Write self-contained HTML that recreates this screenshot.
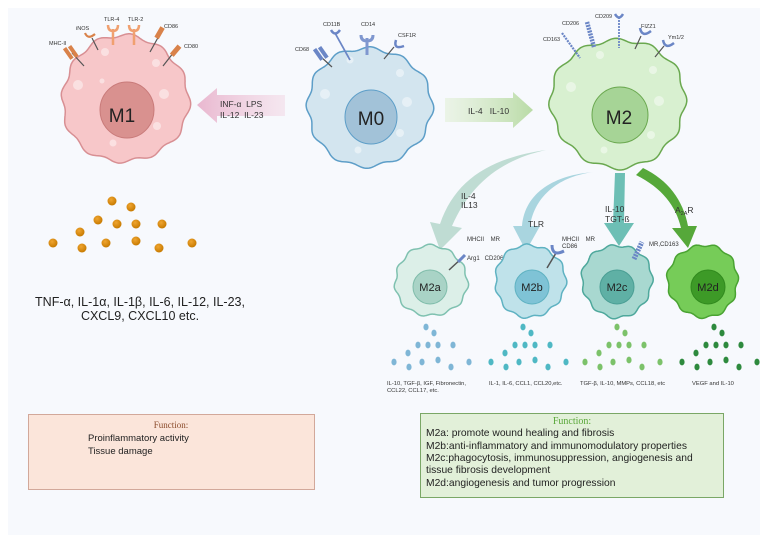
<!DOCTYPE html>
<html><head><meta charset="utf-8">
<style>
html,body{margin:0;padding:0;background:#fff;}
svg{display:block;font-family:"Liberation Sans",sans-serif;}
</style></head>
<body>
<svg id="s" width="768" height="543" viewBox="0 0 768 543" xmlns="http://www.w3.org/2000/svg">
<defs>
<radialGradient id="og" cx="40%" cy="35%" r="65%"><stop offset="0" stop-color="#f0a530"/><stop offset="1" stop-color="#c77a00"/></radialGradient>
<linearGradient id="pg" x1="0" x2="1"><stop offset="0" stop-color="#e9b7cf"/><stop offset="1" stop-color="#f3dbe7" stop-opacity="0.6"/></linearGradient>
<linearGradient id="gg" x1="0" x2="1"><stop offset="0" stop-color="#e3f0d9" stop-opacity="0.6"/><stop offset="1" stop-color="#b9dba6"/></linearGradient>
</defs>
<rect x="8" y="8" width="752" height="527" fill="#f7f9fd"/>
<g id="cells">
<ellipse cx="125" cy="99" rx="63" ry="63" fill="#f7c7c9" stroke="#d88f93"/>
<ellipse cx="369" cy="107" rx="62" ry="59" fill="#d3e5ef" stroke="#5d9ec8"/>
<ellipse cx="618" cy="103" rx="67" ry="64" fill="#d8f0d0" stroke="#6aa84f"/>
</g>
<g fill="#fff" opacity="0.45">
<circle cx="78" cy="85" r="5"/><circle cx="164" cy="94" r="5"/><circle cx="156" cy="63" r="4"/><circle cx="105" cy="52" r="4"/><circle cx="157" cy="126" r="4"/><circle cx="113" cy="143" r="3.5"/><circle cx="102" cy="81" r="2.5"/>
<circle cx="325" cy="94" r="5"/><circle cx="407" cy="102" r="5"/><circle cx="400" cy="73" r="4"/><circle cx="350" cy="60" r="3.5"/><circle cx="400" cy="133" r="4"/><circle cx="358" cy="150" r="3.5"/>
<circle cx="571" cy="87" r="5"/><circle cx="659" cy="101" r="5"/><circle cx="653" cy="70" r="4"/><circle cx="600" cy="55" r="4"/><circle cx="651" cy="135" r="4"/><circle cx="604" cy="150" r="3.5"/>
</g>
<ellipse cx="127" cy="110" rx="27" ry="28" fill="#d9918f" stroke="#c97b7a"/>
<ellipse cx="371" cy="117" rx="26" ry="27" fill="#a2c2d8" stroke="#5d9ec8"/>
<ellipse cx="620" cy="115" rx="28" ry="28" fill="#a6d496" stroke="#6aa84f"/>
<text x="122" y="122" font-size="19" text-anchor="middle" fill="#222">M1</text>
<text x="371" y="125" font-size="19" text-anchor="middle" fill="#222">M0</text>
<text x="619" y="124" font-size="19" text-anchor="middle" fill="#222">M2</text>
<polygon points="197,105 217,88 217,95 285,95 285,116 217,116 217,123" fill="url(#pg)"/>
<polygon points="445,98 513,98 513,92 533,110 513,128 513,122 445,122" fill="url(#gg)"/>
<text x="220" y="107" font-size="8.5" fill="#333">INF-α&#160;&#160;LPS</text>
<text x="220" y="118" font-size="8.5" fill="#333">IL-12&#160;&#160;IL-23</text>
<text x="468" y="114" font-size="8.5" fill="#333">IL-4&#160;&#160;&#160;IL-10</text>
<g stroke-width="1.2" fill="none">
<line x1="72" y1="53" x2="84" y2="66" stroke="#555"/><rect x="66" y="47" width="4" height="13" fill="#d9824a" stroke="none" transform="rotate(-35 68 53)"/><rect x="71" y="45" width="4" height="13" fill="#d9824a" stroke="none" transform="rotate(-35 73 51)"/>
<line x1="92" y1="38" x2="98" y2="50" stroke="#555"/><path d="M85 33 q3 7 10 1" stroke="#d9824a" stroke-width="2.2"/>
<path d="M113 29 v16 M113 31 q-5 0 -5 -6 M113 31 q5 0 5 -6" stroke="#f0a070" stroke-width="2.5"/>
<path d="M134 29 v16 M134 31 q-5 0 -5 -6 M134 31 q5 0 5 -6" stroke="#f0a070" stroke-width="2.5"/>
<line x1="150" y1="52" x2="160" y2="34" stroke="#555"/><rect x="157" y="27" width="5" height="12" fill="#d9824a" stroke="none" transform="rotate(30 160 33)"/>
<line x1="163" y1="66" x2="174" y2="52" stroke="#555"/><rect x="173" y="45" width="5" height="12" fill="#d9824a" stroke="none" transform="rotate(40 176 51)"/>
<line x1="320" y1="56" x2="332" y2="67" stroke="#555"/><rect x="316" y="48" width="4" height="13" fill="#6b86c6" stroke="none" transform="rotate(-35 318 54)"/><rect x="321" y="46" width="4" height="13" fill="#6b86c6" stroke="none" transform="rotate(-35 323 52)"/>
<line x1="335" y1="33" x2="350" y2="60" stroke="#6b86c6" stroke-width="1.8"/><path d="M331 30 q4 7 9 0" stroke="#6b86c6" stroke-width="2.5"/>
<path d="M367 38 v17 M367 41 q-6 0 -6 -6 M367 41 q6 0 6 -6" stroke="#7f97cf" stroke-width="3"/>
<line x1="384" y1="59" x2="394" y2="47" stroke="#555"/><path d="M396 40 q-3 10 8 6" stroke="#6b86c6" stroke-width="2.5"/>
<line x1="562" y1="33" x2="580" y2="58" stroke="#6b86c6" stroke-width="2.2" stroke-dasharray="2 1"/>
<line x1="587" y1="22" x2="594" y2="47" stroke="#6b86c6" stroke-width="4.5" stroke-dasharray="2 1"/>
<line x1="619" y1="17" x2="619" y2="48" stroke="#6b86c6" stroke-width="1.8" stroke-dasharray="2 1"/><path d="M615 14 q4 7 8 0" stroke="#6b86c6" stroke-width="2.5"/>
<line x1="635" y1="49" x2="641" y2="36" stroke="#555"/><path d="M640 28 q2 10 11 3" stroke="#6b86c6" stroke-width="2.5"/>
<line x1="655" y1="57" x2="664" y2="46" stroke="#555"/><path d="M663 40 q2 10 11 3" stroke="#6b86c6" stroke-width="2.5"/>
</g>
<g font-size="5.5" fill="#333">
<text x="49" y="45">MHC-II</text><text x="76" y="30">iNOS</text><text x="104" y="21">TLR-4</text><text x="128" y="21">TLR-2</text><text x="164" y="28">CD86</text><text x="184" y="48">CD80</text>
<text x="295" y="51">CD68</text><text x="323" y="26">CD11B</text><text x="361" y="26">CD14</text><text x="398" y="37">CSF1R</text>
<text x="543" y="41">CD163</text><text x="562" y="25">CD206</text><text x="595" y="18">CD209</text><text x="641" y="28">FIZZ1</text><text x="668" y="39">Ym1/2</text>
</g>
<path d="M546 150 C500 160 470 185 452 226 L462 228 L440 250 L430 222 L440 224 C455 180 490 158 546 150 Z" fill="#bfdcd3"/>
<path d="M594 172 C560 176 535 195 530 226 L540 226 L526 251 L513 226 L522 226 C525 192 555 175 594 172 Z" fill="#a9d5df"/>
<path d="M615 173 L625 173 L624 223 L634 223 L619 246 L604 223 L613 223 Z" fill="#6dbfb5"/>
<path d="M643 168 C668 180 683 200 688 226 L697 226 L688 248 L672 228 L681 228 C676 206 662 188 636 175 Z" fill="#56a83a"/>
<g font-size="8.5" fill="#333">
<text x="461" y="199">IL-4</text><text x="461" y="208">IL13</text>
<text x="528" y="227">TLR</text>
<text x="605" y="212">IL-10</text><text x="605" y="222">TGT-ß</text>
<text x="675" y="213">A<tspan font-size="5.5" dy="2">2A</tspan><tspan dy="-2">R</tspan></text>
</g>
<g font-size="6" fill="#333">
<text x="467" y="241">MHCII&#160;&#160;&#160;&#160;MR</text><text x="467" y="260">Arg1&#160;&#160;&#160;CD206</text>
<text x="562" y="241">MHCII&#160;&#160;&#160;&#160;MR</text><text x="562" y="248">CD86</text>
<text x="649" y="246">MR,CD163</text>
</g>
<g id="small">
<ellipse cx="431" cy="281" rx="36" ry="35" fill="#dcefe8" stroke="#7fc1b0"/>
<ellipse cx="530" cy="281" rx="35" ry="36" fill="#bfe2ea" stroke="#5fb2c2"/>
<ellipse cx="617" cy="281" rx="35" ry="36" fill="#a8d8d0" stroke="#4ea89c"/>
<ellipse cx="703" cy="281" rx="35" ry="36" fill="#76cc58" stroke="#4aa332"/>
</g>
<circle cx="430" cy="287" r="17" fill="#a9d3c6" stroke="#7fbcaa"/>
<circle cx="532" cy="287" r="17" fill="#7fc3d6" stroke="#5fb2c2"/>
<circle cx="617" cy="287" r="17" fill="#5fb0a5" stroke="#4a9e94"/>
<circle cx="708" cy="287" r="17" fill="#3d9a27" stroke="#318a1e"/>
<g font-size="11" fill="#222" text-anchor="middle">
<text x="430" y="291">M2a</text><text x="532" y="291">M2b</text><text x="617" y="291">M2c</text><text x="708" y="291">M2d</text>
</g>
<g stroke-width="1.5" fill="none">
<line x1="449" y1="270" x2="462" y2="258" stroke="#555"/><path d="M458 262 l7 -7" stroke="#6b86c6" stroke-width="3"/>
<line x1="547" y1="268" x2="556" y2="253" stroke="#555"/><path d="M552 245 q0 12 12 6" stroke="#6b86c6" stroke-width="3"/>
<line x1="634" y1="259" x2="642" y2="242" stroke="#6b86c6" stroke-width="5" stroke-dasharray="2 1"/>
</g>
<g id="dots"></g>
<g fill="url(#og)">
<circle cx="112" cy="201" r="4.5"/><circle cx="131" cy="207" r="4.5"/><circle cx="98" cy="220" r="4.5"/><circle cx="117" cy="224" r="4.5"/><circle cx="136" cy="224" r="4.5"/><circle cx="162" cy="224" r="4.5"/><circle cx="80" cy="232" r="4.5"/><circle cx="53" cy="243" r="4.5"/><circle cx="82" cy="248" r="4.5"/><circle cx="106" cy="243" r="4.5"/><circle cx="136" cy="241" r="4.5"/><circle cx="159" cy="248" r="4.5"/><circle cx="192" cy="243" r="4.5"/>
</g>
<text x="140" y="306" font-size="12.5" text-anchor="middle" fill="#222">TNF-α, IL-1α, IL-1β, IL-6, IL-12, IL-23,</text>
<text x="140" y="320" font-size="12.5" text-anchor="middle" fill="#222">CXCL9, CXCL10 etc.</text>
<g font-size="5.8" fill="#333">
<text x="387" y="385">IL-10, TGF-β, IGF, Fibronectin,</text><text x="387" y="392">CCL22, CCL17, etc.</text>
<text x="489" y="385">IL-1, IL-6, CCL1, CCL20,etc.</text>
<text x="580" y="385">TGF-β, IL-10, MMPs, CCL18, etc</text>
<text x="692" y="385">VEGF and IL-10</text>
</g>
<rect x="28.5" y="414.5" width="286" height="75" fill="#fbe5da" stroke="#d2a89a"/>
<text x="171" y="428" font-size="9" font-family="Liberation Serif,serif" text-anchor="middle" fill="#8a4a2a">Function:</text>
<text x="88" y="441" font-size="9.5" fill="#222">Proinflammatory activity</text>
<text x="88" y="454" font-size="9.5" fill="#222">Tissue damage</text>
<rect x="420.5" y="413.5" width="303" height="84" fill="#e2f0d9" stroke="#7aa766"/>
<text x="572" y="424" font-size="10" font-family="Liberation Serif,serif" text-anchor="middle" fill="#5aa83a">Function:</text>
<g font-size="10.3" fill="#222">
<text x="426" y="436">M2a: promote wound healing and fibrosis</text>
<text x="426" y="449">M2b:anti-inflammatory and immunomodulatory properties</text>
<text x="426" y="461">M2c:phagocytosis, immunosuppression, angiogenesis and</text>
<text x="426" y="473">tissue fibrosis development</text>
<text x="426" y="486">M2d:angiogenesis and tumor progression</text>
</g>
</svg>
<script>
(function(){
var NS="http://www.w3.org/2000/svg";
function blob(cx,cy,rx,ry,n,amp,ph){var d="";for(var i=0;i<=240;i++){var t=i/240*2*Math.PI;var r=1+amp*Math.sin(n*t+ph)+amp*0.6*Math.sin(3*t+ph*1.7);var x=cx+rx*r*Math.cos(t),y=cy+ry*r*Math.sin(t);d+=(i?"L":"M")+x.toFixed(1)+" "+y.toFixed(1);}return d+"Z";}
function rep(g,specs){var els=document.getElementById(g).querySelectorAll("ellipse");specs.forEach(function(s,i){var e=els[i];var p=document.createElementNS(NS,"path");p.setAttribute("d",blob(+e.getAttribute("cx"),+e.getAttribute("cy"),+e.getAttribute("rx"),+e.getAttribute("ry"),s[0],s[1],s[2]));p.setAttribute("fill",e.getAttribute("fill"));p.setAttribute("stroke",e.getAttribute("stroke"));p.setAttribute("stroke-width","1.5");e.parentNode.replaceChild(p,e);});}
rep("cells",[[12,0.03,0.5],[12,0.03,1.2],[12,0.03,2.0]]);
rep("small",[[11,0.035,0.3],[11,0.035,1.1],[11,0.035,1.9],[11,0.035,2.5]]);
var dots=document.getElementById("dots");
var cols=["#7fb6d6","#4fb8c4","#7cc26a","#2e8a3e"];var offs=[384,481,575,672];
var pts=[[45,327],[53,333],[37,345],[47,345],[57,345],[72,345],[27,353],[13,362],[28,367],[41,362],[57,360],[70,367],[88,362]];
offs.forEach(function(o,k){pts.forEach(function(p){var e=document.createElementNS(NS,"ellipse");e.setAttribute("cx",o+p[0]-3);e.setAttribute("cy",p[1]);e.setAttribute("rx",2.6);e.setAttribute("ry",3.4);e.setAttribute("fill",cols[k]);dots.appendChild(e);});});
})();
</script>
</body></html>
